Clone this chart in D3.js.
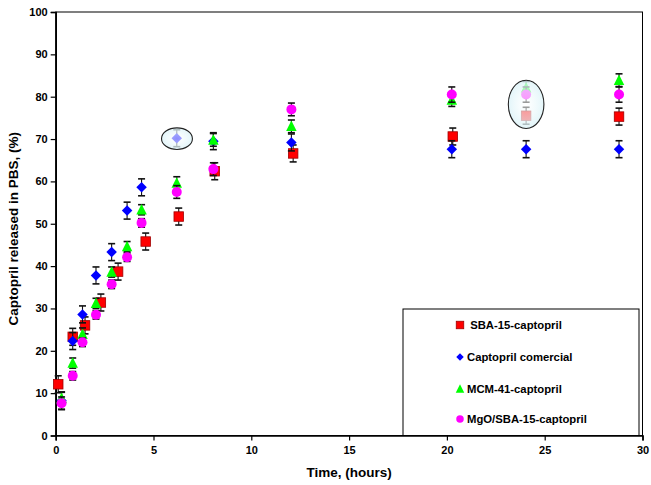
<!DOCTYPE html>
<html>
<head>
<meta charset="utf-8">
<script src="https://cdn.jsdelivr.net/npm/d3@7/dist/d3.min.js"></script>
<style>
body { margin: 0; background: #fff; }
text { font-family: "Liberation Sans", Arial, sans-serif; font-weight: bold; fill: #000; }
</style>
</head>
<body>
<div class="chart"></div>
<script>
// values
var seriesNames = [" SBA-15-captopril", "Captopril comercial", "MCM-41-captopril", "MgO/SBA-15-captopril"];

var sbaTime  = [0.13, 0.87, 1.5, 2.31, 3.19, 4.6, 6.29, 8.13, 12.14, 20.3, 24.05, 28.8];
var sbaValue = [12.1, 23.3, 26.0, 31.4, 38.7, 45.8, 51.7, 62.4, 66.6, 70.6, 75.5, 75.3];
var sbaError = [2, 2, 2, 2, 2, 2, 2, 2, 2, 2, 2, 2];

var comTime  = [0.3, 0.87, 1.37, 2.06, 2.86, 3.65, 4.39, 6.19, 8.06, 12.05, 20.25, 24.05, 28.8];
var comValue = [8.2, 22.3, 28.6, 37.8, 43.3, 53.1, 58.6, 70.2, 69.5, 69.2, 67.6, 67.6, 67.6];
var comError = [2, 2, 2, 2, 2, 2, 2, 2, 2, 2, 2, 2, 2];

var mcmTime  = [0.3, 0.87, 1.37, 2.06, 2.86, 3.65, 4.39, 6.19, 8.06, 12.05, 20.25, 24.05, 28.8];
var mcmValue = [8.8, 17.1, 23.9, 31.2, 38.6, 44.6, 53.3, 59.6, 69.8, 73.0, 79.2, 82.1, 83.9];
var mcmError = [1.5, 1.2, 1.5, 1.2, 1.2, 1.2, 1.2, 1.5, 1.5, 1.5, 1.5, 1.5, 1.5];

var mgoTime  = [0.3, 0.87, 1.37, 2.06, 2.86, 3.65, 4.39, 6.19, 8.06, 12.05, 20.25, 24.05, 28.8];
var mgoValue = [7.6, 14.1, 22.0, 28.5, 35.7, 42.1, 50.2, 57.5, 62.9, 77.0, 80.5, 80.5, 80.5];
var mgoError = [1.5, 1, 1, 1, 1, 1, 1, 1.5, 1.5, 1.5, 1.8, 1.8, 1.8];

// circled points (centre time, centre value, half width in hours, half height in %)
var circleTime = [6.2, 24.05];
var circleValue = [70.1, 78.2];
var circleRx = [0.79, 0.91];
var circleRy = [2.55, 5.7];

var xTicks = [0, 5, 10, 15, 20, 25, 30];
var yTicks = [0, 10, 20, 30, 40, 50, 60, 70, 80, 90, 100];

var width = 651,
	height = 485,
	margin = {top: 12, right: 8.5, bottom: 49.5, left: 55.7};

var svg = d3.select(".chart").append("svg")
	.attr("width", width)
	.attr("height", height);

var x = d3.scaleLinear().domain([0, 30]).range([margin.left, width - margin.right]);
var y = d3.scaleLinear().domain([0, 100]).range([height - margin.bottom, margin.top]);

// plot frame
svg.append("rect")
	.attr("x", x(0)).attr("y", y(100))
	.attr("width", x(30) - x(0)).attr("height", y(0) - y(100))
	.attr("fill", "none").attr("stroke", "#000").attr("stroke-width", 1);

// legend box (drawn under the points)
svg.append("rect")
	.attr("x", 403).attr("y", 309)
	.attr("width", 236).attr("height", y(0) - 309)
	.attr("fill", "#fff").attr("stroke", "#000").attr("stroke-width", 1);

var xAxis = svg.append("g")
	.attr("transform", "translate(0," + y(0) + ")")
	.call(d3.axisBottom(x).tickValues(xTicks).tickSize(5).tickPadding(6));
var yAxis = svg.append("g")
	.attr("transform", "translate(" + x(0) + ",0)")
	.call(d3.axisLeft(y).tickValues(yTicks).tickSize(5).tickPadding(3));

[xAxis, yAxis].forEach(function(a) {
	a.select(".domain").attr("stroke-width", 1.6);
	a.selectAll(".tick line").attr("stroke-width", 1.2);
	a.selectAll("text").style("font-size", "11px").style("font-family", "Liberation Sans, Arial, sans-serif").style("font-weight", "bold");
});

svg.append("text")
	.attr("x", (x(0) + x(30)) / 2)
	.attr("y", 477)
	.attr("text-anchor", "middle")
	.style("font-size", "13.5px")
	.text("Time, (hours)");

svg.append("text")
	.attr("transform", "translate(18," + (y(50) + 5) + ") rotate(-90)")
	.attr("text-anchor", "middle")
	.style("font-size", "13.5px")
	.text("Captopril released in PBS, (%)");

// marker shapes
function square(g, s) { return g.append("rect").attr("x", -s / 2).attr("y", -s / 2).attr("width", s).attr("height", s).attr("fill", "#ff0000").attr("stroke", "#a00000").attr("stroke-width", 0.8); }
function diamond(g, s) { return g.append("path").attr("d", "M0," + (-s / 2) + "L" + (s / 2) + ",0L0," + (s / 2) + "L" + (-s / 2) + ",0Z").attr("fill", "#0000ff"); }
function triangle(g, s) { return g.append("path").attr("d", "M0," + (-s / 2 - 1) + "L" + (s / 2 + 0.5) + "," + (s / 2) + "L" + (-s / 2 - 0.5) + "," + (s / 2) + "Z").attr("fill", "#00ff00"); }
function dot(g, s) { return g.append("circle").attr("r", s / 2).attr("fill", "#ff00ff"); }

var series = [
	{time: sbaTime, value: sbaValue, error: sbaError, shape: square, size: 9.5},
	{time: comTime, value: comValue, error: comError, shape: diamond, size: 10.5},
	{time: mcmTime, value: mcmValue, error: mcmError, shape: triangle, size: 9.5},
	{time: mgoTime, value: mgoValue, error: mgoError, shape: dot, size: 10}
];

series.forEach(function(s) {
	var pts = s.time.map(function(t, i) { return {t: t, v: s.value[i], e: s.error[i]}; });
	var g = svg.append("g");
	var bars = g.selectAll("g.bar").data(pts).enter().append("g")
		.attr("stroke", "#111").attr("stroke-width", 1.1);
	bars.append("line")
		.attr("x1", function(d) { return x(d.t); }).attr("x2", function(d) { return x(d.t); })
		.attr("y1", function(d) { return y(d.v - d.e); }).attr("y2", function(d) { return y(d.v + d.e); });
	bars.append("line")
		.attr("x1", function(d) { return x(d.t) - 3.5; }).attr("x2", function(d) { return x(d.t) + 3.5; })
		.attr("y1", function(d) { return y(d.v + d.e); }).attr("y2", function(d) { return y(d.v + d.e); })
		.attr("stroke-width", 1.6);
	bars.append("line")
		.attr("x1", function(d) { return x(d.t) - 3.5; }).attr("x2", function(d) { return x(d.t) + 3.5; })
		.attr("y1", function(d) { return y(d.v - d.e); }).attr("y2", function(d) { return y(d.v - d.e); })
		.attr("stroke-width", 1.6);
	pts.forEach(function(d) {
		var m = g.append("g").attr("transform", "translate(" + x(d.t) + "," + y(d.v) + ")");
		s.shape(m, s.size);
	});
});

// highlighted points
var defs = svg.append("defs");
var grad = defs.append("radialGradient").attr("id", "glow");
grad.append("stop").attr("offset", "0%").attr("stop-color", "#ffffff").attr("stop-opacity", 0.55);
grad.append("stop").attr("offset", "100%").attr("stop-color", "#dcf3f8").attr("stop-opacity", 0.8);

svg.selectAll("ellipse.mark").data(circleTime).enter().append("ellipse")
	.attr("cx", function(d) { return x(d); })
	.attr("cy", function(d, i) { return y(circleValue[i]); })
	.attr("rx", function(d, i) { return x(d + circleRx[i]) - x(d); })
	.attr("ry", function(d, i) { return y(circleValue[i] - circleRy[i]) - y(circleValue[i]); })
	.attr("fill", "url(#glow)")
	.attr("stroke", "#222").attr("stroke-width", 1.1);

// legend
var legendY = [325, 357, 389, 419];
series.forEach(function(s, i) {
	var m = svg.append("g").attr("transform", "translate(460," + legendY[i] + ")");
	s.shape(m, 7.5);
	svg.append("text")
		.attr("x", 467).attr("y", legendY[i] + 4)
		.style("font-size", "11.3px")
		.style("white-space", "pre")
		.text(seriesNames[i]);
});
</script>
</body>
</html>
